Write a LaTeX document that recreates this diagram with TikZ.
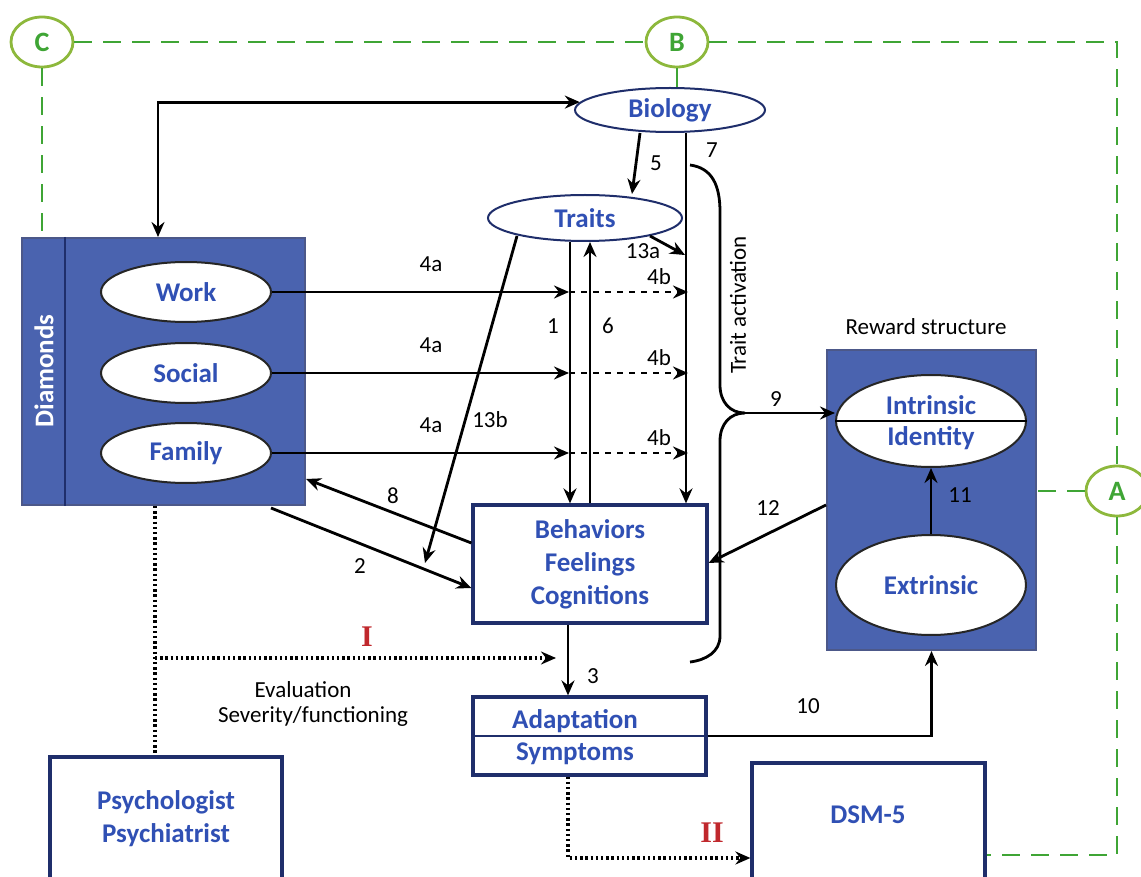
\documentclass[tikz,border=0pt]{standalone}
\usepackage{fontspec}
\setmainfont{Carlito}
\newfontfamily\romfont{Liberation Serif}
\usepackage{xcolor}
\usepackage{tikz}
\usetikzlibrary{shapes.geometric,arrows.meta,calc}
\definecolor{lblue}{HTML}{3050B4}
\definecolor{panel}{HTML}{4A63AF}
\definecolor{navy}{HTML}{1F2E6B}
\definecolor{grn}{HTML}{3FA535}
\definecolor{olive}{HTML}{8DB83C}
\definecolor{romred}{HTML}{C0282D}

\begin{document}
\begin{tikzpicture}[x=0.5pt,y=-0.5pt,
    arr/.style={-{Stealth[length=7.5pt,width=6.5pt,inset=2.5pt]}, line width=1.4pt},
    dotarr/.style={arr, line width=1.6pt, dash pattern=on 1.2pt off 1.4pt},
    gdash/.style={grn, line width=1.4pt, dash pattern=on 9pt off 5.5pt},
    gcirc/.style={ellipse, draw=olive, line width=1.4pt, fill=white, minimum width=31pt, minimum height=25pt, inner sep=0pt, text=grn, font=\bfseries\fontsize{14}{16}\selectfont},
    oval/.style={ellipse, draw=black!85, line width=1pt, fill=white, inner sep=0pt, text=lblue, font=\bfseries\fontsize{13.5}{16}\selectfont},
    wbox/.style={rectangle, draw=navy, line width=1.6pt, fill=white, inner sep=0pt, text=lblue, align=center, font=\bfseries\fontsize{13.5}{16.5}\selectfont},
    bbox/.style={rectangle, draw=navy!80, line width=1pt, fill=panel, inner sep=0pt},
    lab/.style={font=\fontsize{11.5}{13}\selectfont},
    rom/.style={text=romred, font=\romfont\bfseries\fontsize{15}{16}\selectfont}]
    \clip (0,0) rectangle (1141,877);

    % markers
    \node[gcirc] (C) at (42,42) {C};
    \node[gcirc] (B) at (677,42) {B};
    \node[gcirc] (A) at (1117,491) {A};

    % diamonds panel
    \node[bbox, minimum width=141.5pt, minimum height=133.5pt] (diam) at (163.5,371.5) {};
    \draw[navy, line width=1pt] ($(diam.north west)+(44,0)$) -- ($(diam.south west)+(44,0)$);
    \node[rotate=90, text=white, font=\bfseries\fontsize{13.5}{16}\selectfont] at (44,371) {Diamonds};
    \node[oval, minimum width=85pt, minimum height=30pt] (work) at (186,292) {Work};
    \node[oval, minimum width=85pt, minimum height=30pt] (soc) at (186,373) {Social};
    \node[oval, minimum width=85pt, minimum height=30pt] (fam) at (186,453) {Family};

    % reward panel
    \node[bbox, minimum width=104.5pt, minimum height=150pt] (rew) at (931.5,500) {};
    \node[lab] at (926,327) {Reward structure};
    \node[oval, minimum width=95pt, minimum height=46pt] (ident) at (931,421) {};
    \draw[line width=1pt] (ident.west) -- (ident.east);
    \node[text=lblue, font=\bfseries\fontsize{13.5}{16}\selectfont] at (931,405) {Intrinsic};
    \node[text=lblue, font=\bfseries\fontsize{13.5}{16}\selectfont] at (931,438) {Identity};
    \node[oval, minimum width=95pt, minimum height=50pt] (ext) at (931,585) {Extrinsic};

    % centre column
    \node[oval, draw=navy, minimum width=95pt, minimum height=22pt] (bio) at (670,110) {Biology};
    \node[oval, draw=navy, minimum width=97pt, minimum height=23pt] (tr) at (585,218) {Traits};
    \node[wbox, minimum width=117pt, minimum height=59pt] (beh) at (590,564) {Behaviors\\Feelings\\Cognitions};
    \node[wbox, minimum width=116.5pt, minimum height=39pt] (ad) at (589.5,736) {};
    \draw[navy, line width=1.2pt] (ad.west) -- (ad.east);
    \node[text=lblue, font=\bfseries\fontsize{13.5}{16}\selectfont] at (575,721) {Adaptation};
    \node[text=lblue, font=\bfseries\fontsize{13.5}{16}\selectfont] at (575,754) {Symptoms};
    \node[wbox, minimum width=116pt, minimum height=62pt] (psy) at (166,819) {Psychologist\\Psychiatrist};
    \node[wbox, minimum width=116.5pt, minimum height=59pt] (dsm) at (868.5,822) {};
    \node[text=lblue, font=\bfseries\fontsize{13.5}{16}\selectfont] at (868,815) {DSM-5};

    % green frame
    \draw[gdash] (C.east) -- (B.west);
    \draw[gdash] (B.east) -| (A.north);
    \draw[gdash] (A.south) |- ($(dsm.east)+(0,33)$);
    \draw[gdash] (C.south) -- (C.south |- diam.north);
    \draw[gdash] (A.west) -- (A.west -| rew.east);
    \draw[grn, line width=1.4pt] (B.south) -- (B.south |- bio.north);

    % arrows
    \draw[arr, {Stealth[length=7.5pt,width=6.5pt,inset=2.5pt]}-{Stealth[length=7.5pt,width=6.5pt,inset=2.5pt]}] (diam.north -| 158,0) |- (bio.175);
    \draw[arr] ($(bio.south)+(-30,0)$) -- ($(tr.north)+(47,0)$) node[lab, midway, right=3pt] {5};
    \draw[arr] ($(bio.south)+(16,0)$) -- ($(beh.north)+(96,0)$);
    \node[lab] at (712,150) {7};
    \coordinate (j13) at (685,255);
    \draw[arr] ($(tr.south)+(65,-6)$) -- (j13);
    \node[lab] at (643,251) {13a};
    \draw[arr] ($(tr.south)+(-15,0)$) -- ($(beh.north)+(-20,0)$);
    \node[lab] at (553,326) {1};
    \draw[arr] (beh.north) -- ($(tr.south)+(5,0)$);
    \node[lab] at (608,326) {6};
    \coordinate (e13b) at (425,563);
    \draw[arr] ($(tr.south)+(-68,-6)$) -- (e13b);
    \node[lab] at (490,420) {13b};

    \foreach \d in {work,soc,fam}{
      \draw[arr] (\d.east) -- ++(297,0) coordinate (m\d);
      \draw[arr, dashed] (m\d) -- ++(119,0);
      \node[lab] at ($(\d.east)+(159,-28)$) {4a};
      \node[lab] at ($(\d.east)+(387,-15)$) {4b};
    }

    \draw[arr] ($(beh.west)+(0,-21)$) -- ($(diam.south east)+(0,-27)$);
    \node[lab] at (393,496) {8};
    \draw[arr] ($(diam.south east)+(-35,2)$) -- ($(beh.west)+(0,24)$);
    \node[lab] at (360,566) {2};
    \draw[arr] ($(rew.west)+(0,5)$) -- ($(beh.east)+(0,-1)$);
    \node[lab] at (768,508) {12};

    % trait activation brace
    \coordinate (tip9) at (745,413);
    \draw[line width=1.4pt] (690,165) .. controls (712,168) and (720,185) .. (720,212) -- (720,385)
      .. controls (720,402) and (730,413) .. (tip9)
      .. controls (730,413) and (720,424) .. (720,441) -- (720,636)
      .. controls (720,652) and (706,660) .. (690,662);
    \node[lab, rotate=90] at (738,305) {Trait activation};
    \draw[arr] (tip9) -- (tip9 -| ident.west);
    \node[lab] at (776,399) {9};
    \draw[arr] (ext.north) -- (ident.south);
    \node[lab] at (960,495) {11};

    \draw[arr] ($(beh.south)+(-22,0)$) -- ($(ad.north)+(-21.5,0)$);
    \node[lab] at (593,676) {3};
    \draw[arr] (ad.east) -| (rew.south);
    \node[lab] at (808,706) {10};

    % evaluation paths
    \coordinate (ev) at (155,658);
    \draw[line width=1.6pt, dash pattern=on 1.2pt off 1.4pt] ($(diam.south)+(-8.5,0)$) -- ($(psy.north)+(-11,0)$);
    \draw[dotarr] (ev) -- ($(ev)+(401,0)$);
    \node[rom] at (367,637) {I};
    \node[lab] at (303,690) {Evaluation};
    \node[lab] at (313,716) {Severity/functioning};
    \draw[dotarr] ($(ad.south)+(-21.5,0)$) |- ($(dsm.west)+(0,36)$);
    \node[rom] at (712,833) {II};
\end{tikzpicture}
\end{document}
